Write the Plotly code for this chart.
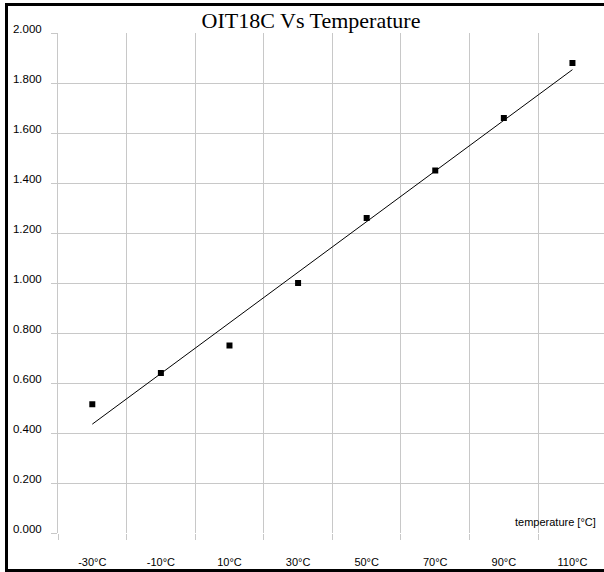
import numpy as np
import plotly.graph_objects as go

# Data
categories = ["-30°C", "-10°C", "10°C", "30°C", "50°C", "70°C", "90°C", "110°C"]
oit_values = [0.515, 0.64, 0.75, 1.0, 1.26, 1.45, 1.66, 1.88]
y_tick_values = [0.0, 0.2, 0.4, 0.6, 0.8, 1.0, 1.2, 1.4, 1.6, 1.8, 2.0]
y_tick_labels = ["0.000", "0.200", "0.400", "0.600", "0.800", "1.000",
                 "1.200", "1.400", "1.600", "1.800", "2.000"]

# Linear trend line (least squares) over category index
idx = np.arange(len(categories))
slope, intercept = np.polyfit(idx, oit_values, 1)
trend = [float(intercept + slope * i) for i in idx]

W, H = 604, 572
L, R, T, B = 58, 0, 33, 39
pw, ph = W - L - R, H - T - B

def px_x(x):
    return (x - L) / pw

def px_y(y):
    return (H - B - y) / ph

fig = go.Figure()
fig.add_trace(go.Scatter(
    x=categories, y=trend, mode="lines",
    line=dict(color="black", width=1), hoverinfo="skip", showlegend=False))
fig.add_trace(go.Scatter(
    x=categories, y=oit_values, mode="markers",
    marker=dict(symbol="square", size=6, color="black"), showlegend=False))

grid = "#c8c8c8"
frame = dict(color="black", width=3)
fig.update_layout(
    width=W, height=H,
    margin=dict(l=L, r=R, t=T, b=B),
    paper_bgcolor="white", plot_bgcolor="white",
    font=dict(family="Liberation Sans, Arial", size=11, color="black"),
    title=dict(text="OIT18C Vs Temperature", x=311 / W, xanchor="center",
               y=1 - 20 / H, yanchor="middle",
               font=dict(family="Liberation Serif, Times New Roman", size=22, color="black")),
    xaxis=dict(type="category", range=[-0.5, 7.46], tickson="boundaries",
               showgrid=True, gridcolor=grid, gridwidth=1,
               ticks="outside", ticklen=6, tickcolor=grid,
               showline=False, zeroline=False, ticklabelstandoff=21,
               tickfont=dict(size=11, color="black")),
    yaxis=dict(range=[0, 2], tickvals=y_tick_values, ticktext=y_tick_labels,
               showgrid=True, gridcolor=grid, gridwidth=1,
               ticks="outside", ticklen=6, tickcolor=grid,
               showline=True, linecolor=grid, linewidth=1,
               zeroline=False, ticklabelstandoff=7, ticklabelshift=-4,
               tickfont=dict(size=11.5, color="black")),
    annotations=[dict(text="temperature [°C]", xref="paper", yref="paper",
                      x=px_x(598), y=px_y(522), xanchor="right", yanchor="middle",
                      showarrow=False, font=dict(size=11, color="black"))],
    shapes=[
        dict(type="line", xref="paper", yref="paper",
             x0=px_x(6.5), x1=px_x(6.5), y0=px_y(570.5), y1=px_y(4.5), line=frame),
        dict(type="line", xref="paper", yref="paper",
             x0=px_x(5), x1=px_x(W + 5), y0=px_y(4.5), y1=px_y(4.5), line=frame),
        dict(type="line", xref="paper", yref="paper",
             x0=px_x(5), x1=px_x(W + 5), y0=px_y(570.5), y1=px_y(570.5), line=frame),
    ],
)

fig.write_html("out.html", config={"displayModeBar": False},
               post_script="document.body.style.margin='0';document.body.style.overflow='hidden';")
